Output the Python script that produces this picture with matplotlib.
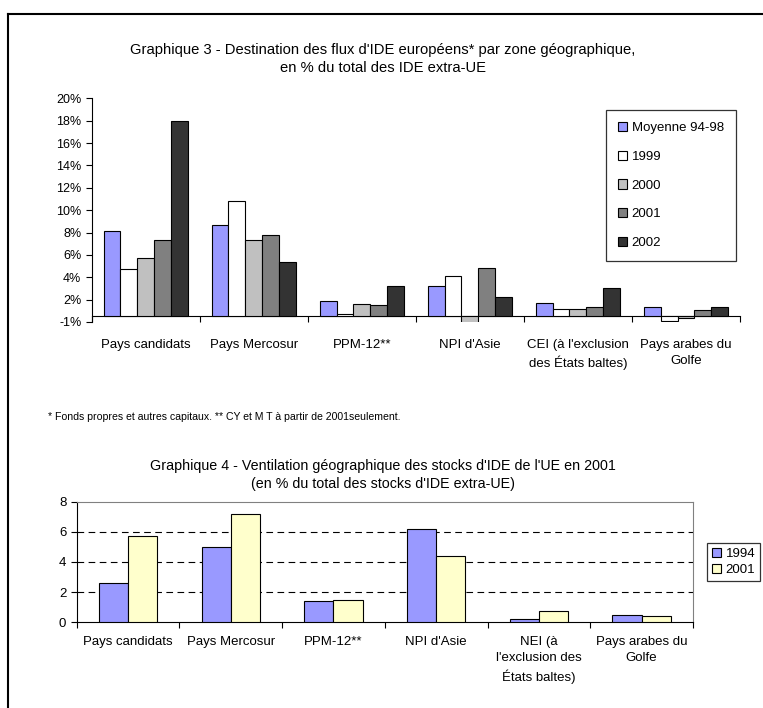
import matplotlib
matplotlib.use("Agg")
import matplotlib.pyplot as plt
import numpy as np
from matplotlib.lines import Line2D

plt.rcParams['font.family'] = ['Liberation Sans', 'DejaVu Sans']

# ---------------- Data: chart 3 ----------------
cats1 = ["Pays candidats", "Pays Mercosur", "PPM-12**", "NPI d'Asie",
         "CEI (à l'exclusion\ndes États baltes)", "Pays arabes du\nGolfe"]
series1_names = ["Moyenne 94-98", "1999", "2000", "2001", "2002"]
moy_94_98 = [7.6, 8.2, 1.4, 2.7, 1.2, 0.8]
v1999 = [4.2, 10.3, 0.25, 3.6, 0.65, -0.45]
v2000 = [5.2, 6.8, 1.1, -0.55, 0.65, -0.15]
v2001 = [6.8, 7.25, 1.0, 4.3, 0.85, 0.55]
v2002 = [17.5, 4.9, 2.75, 1.75, 2.55, 0.85]
series1 = [moy_94_98, v1999, v2000, v2001, v2002]
colors1 = ["#9999FF", "#FFFFFF", "#C0C0C0", "#808080", "#333333"]
yticks1 = [-0.5, 1.5, 3.5, 5.5, 7.5, 9.5, 11.5, 13.5, 15.5, 17.5, 19.5]
ytick_labels1 = ["-1%", "2%", "4%", "6%", "8%", "10%", "12%", "14%", "16%", "18%", "20%"]

# ---------------- Data: chart 4 ----------------
cats2 = ["Pays candidats", "Pays Mercosur", "PPM-12**", "NPI d'Asie",
         "NEI (à\nl'exclusion des\nÉtats baltes)", "Pays arabes du\nGolfe"]
series2_names = ["1994", "2001"]
s1994 = [2.6, 5.0, 1.4, 6.2, 0.2, 0.5]
s2001 = [5.7, 7.2, 1.5, 4.4, 0.75, 0.45]
series2 = [s1994, s2001]
colors2 = ["#9999FF", "#FFFFCC"]
yticks2 = [0, 2, 4, 6, 8]

W, H = 763, 708
fig = plt.figure(figsize=(W / 100, H / 100), dpi=100)
fig.patch.set_facecolor("white")

def fx(px):
    return px / W

def fy(py):
    return 1 - py / H

# outer frame lines (top and left)
fig.add_artist(Line2D([fx(8), 1.0], [fy(14), fy(14)], color="black", lw=1.5,
                      transform=fig.transFigure))
fig.add_artist(Line2D([fx(8), fx(8)], [fy(14), 0.0], color="black", lw=1.5,
                      transform=fig.transFigure))

# ---------------- Chart 3 ----------------
ax1 = fig.add_axes([fx(91.7), fy(322), fx(740) - fx(91.7), fy(98.3) - fy(322)])
x = np.arange(len(cats1))
bw1 = 0.156
for i, (vals, name, col) in enumerate(zip(series1, series1_names, colors1)):
    ax1.bar(x + (i - 2) * bw1, vals, width=bw1, color=col, edgecolor="black",
            linewidth=0.8, label=name, zorder=3)
ax1.set_xlim(-0.5, len(cats1) - 0.5)
ax1.set_ylim(-0.5, 19.5)
ax1.set_yticks(yticks1)
ax1.set_yticklabels(ytick_labels1, fontsize=9)
ax1.spines['top'].set_visible(False)
ax1.spines['right'].set_visible(False)
ax1.spines['bottom'].set_position(('data', 0))
ax1.set_xticks(np.arange(-0.5, len(cats1), 1.0))
ax1.set_xticklabels([])
ax1.set_xticks(x, minor=True)
ax1.set_xticklabels(cats1, minor=True, fontsize=9.5)
ax1.tick_params(axis='x', which='minor', length=0, pad=16)
ax1.tick_params(axis='x', which='major', length=4, direction='out', width=0.8)
ax1.tick_params(axis='y', length=4, direction='out', width=0.8)
for lab in ax1.get_xticklabels(minor=True):
    lab.set_linespacing(1.45)
ax1.patch.set_alpha(0)

leg1 = ax1.legend(loc='upper left', bbox_to_anchor=(fx(606), fy(110)),
                  bbox_transform=fig.transFigure, frameon=True, fancybox=False,
                  edgecolor="black", fontsize=9.5, handlelength=0.7, handleheight=0.7,
                  handletextpad=0.35, labelspacing=1.25, borderpad=0.9,
                  borderaxespad=0)
leg1.get_frame().set_linewidth(0.9)

fig.text(0.502, fy(50), "Graphique 3 - Destination des flux d'IDE européens* par zone géographique,",
         ha='center', va='center', fontsize=10.6)
fig.text(0.502, fy(68), "en % du total des IDE extra-UE", ha='center', va='center', fontsize=10.6)
fig.text(fx(48), fy(417), "* Fonds propres et autres capitaux. ** CY et M T à partir de 2001seulement.",
         ha='left', va='center', fontsize=7.6)

# ---------------- Chart 4 ----------------
ax2 = fig.add_axes([fx(76.7), fy(622.3), fx(693) - fx(76.7), fy(501.7) - fy(622.3)])
x2 = np.arange(len(cats2))
bw2 = 0.285
for i, (vals, name, col) in enumerate(zip(series2, series2_names, colors2)):
    ax2.bar(x2 + (i - 0.5) * bw2, vals, width=bw2, color=col, edgecolor="black",
            linewidth=0.8, label=name, zorder=3)
ax2.set_xlim(-0.5, len(cats2) - 0.5)
ax2.set_ylim(0, 8)
ax2.set_yticks(yticks2)
ax2.set_yticklabels([str(v) for v in yticks2], fontsize=9.5)
for yv in yticks2[1:-1]:
    ax2.axhline(yv, color="black", lw=0.8, dashes=(6, 4), zorder=1)
ax2.spines['top'].set_color("#808080")
ax2.spines['right'].set_color("#808080")
ax2.set_xticks(np.arange(-0.5, len(cats2), 1.0))
ax2.set_xticklabels([])
ax2.set_xticks(x2, minor=True)
ax2.set_xticklabels(cats2, minor=True, fontsize=9.5)
ax2.tick_params(axis='x', which='minor', length=0, pad=10)
ax2.tick_params(axis='x', which='major', length=4, direction='out', width=0.8)
ax2.tick_params(axis='y', length=4, direction='out', width=0.8)
for lab in ax2.get_xticklabels(minor=True):
    lab.set_linespacing(1.45)

leg2 = ax2.legend(loc='upper left', bbox_to_anchor=(fx(707), fy(543)),
                  bbox_transform=fig.transFigure, frameon=True, fancybox=False,
                  edgecolor="black", fontsize=9.5, handlelength=0.7, handleheight=0.7,
                  handletextpad=0.35, labelspacing=0.3, borderpad=0.35,
                  borderaxespad=0)
leg2.get_frame().set_linewidth(0.9)

fig.text(0.502, fy(466), "Graphique 4 - Ventilation géographique des stocks d'IDE de l'UE en 2001",
         ha='center', va='center', fontsize=10.3)
fig.text(0.502, fy(484), "(en % du total des stocks d'IDE extra-UE)", ha='center', va='center', fontsize=10.3)

fig.savefig("out.png", dpi=100)
